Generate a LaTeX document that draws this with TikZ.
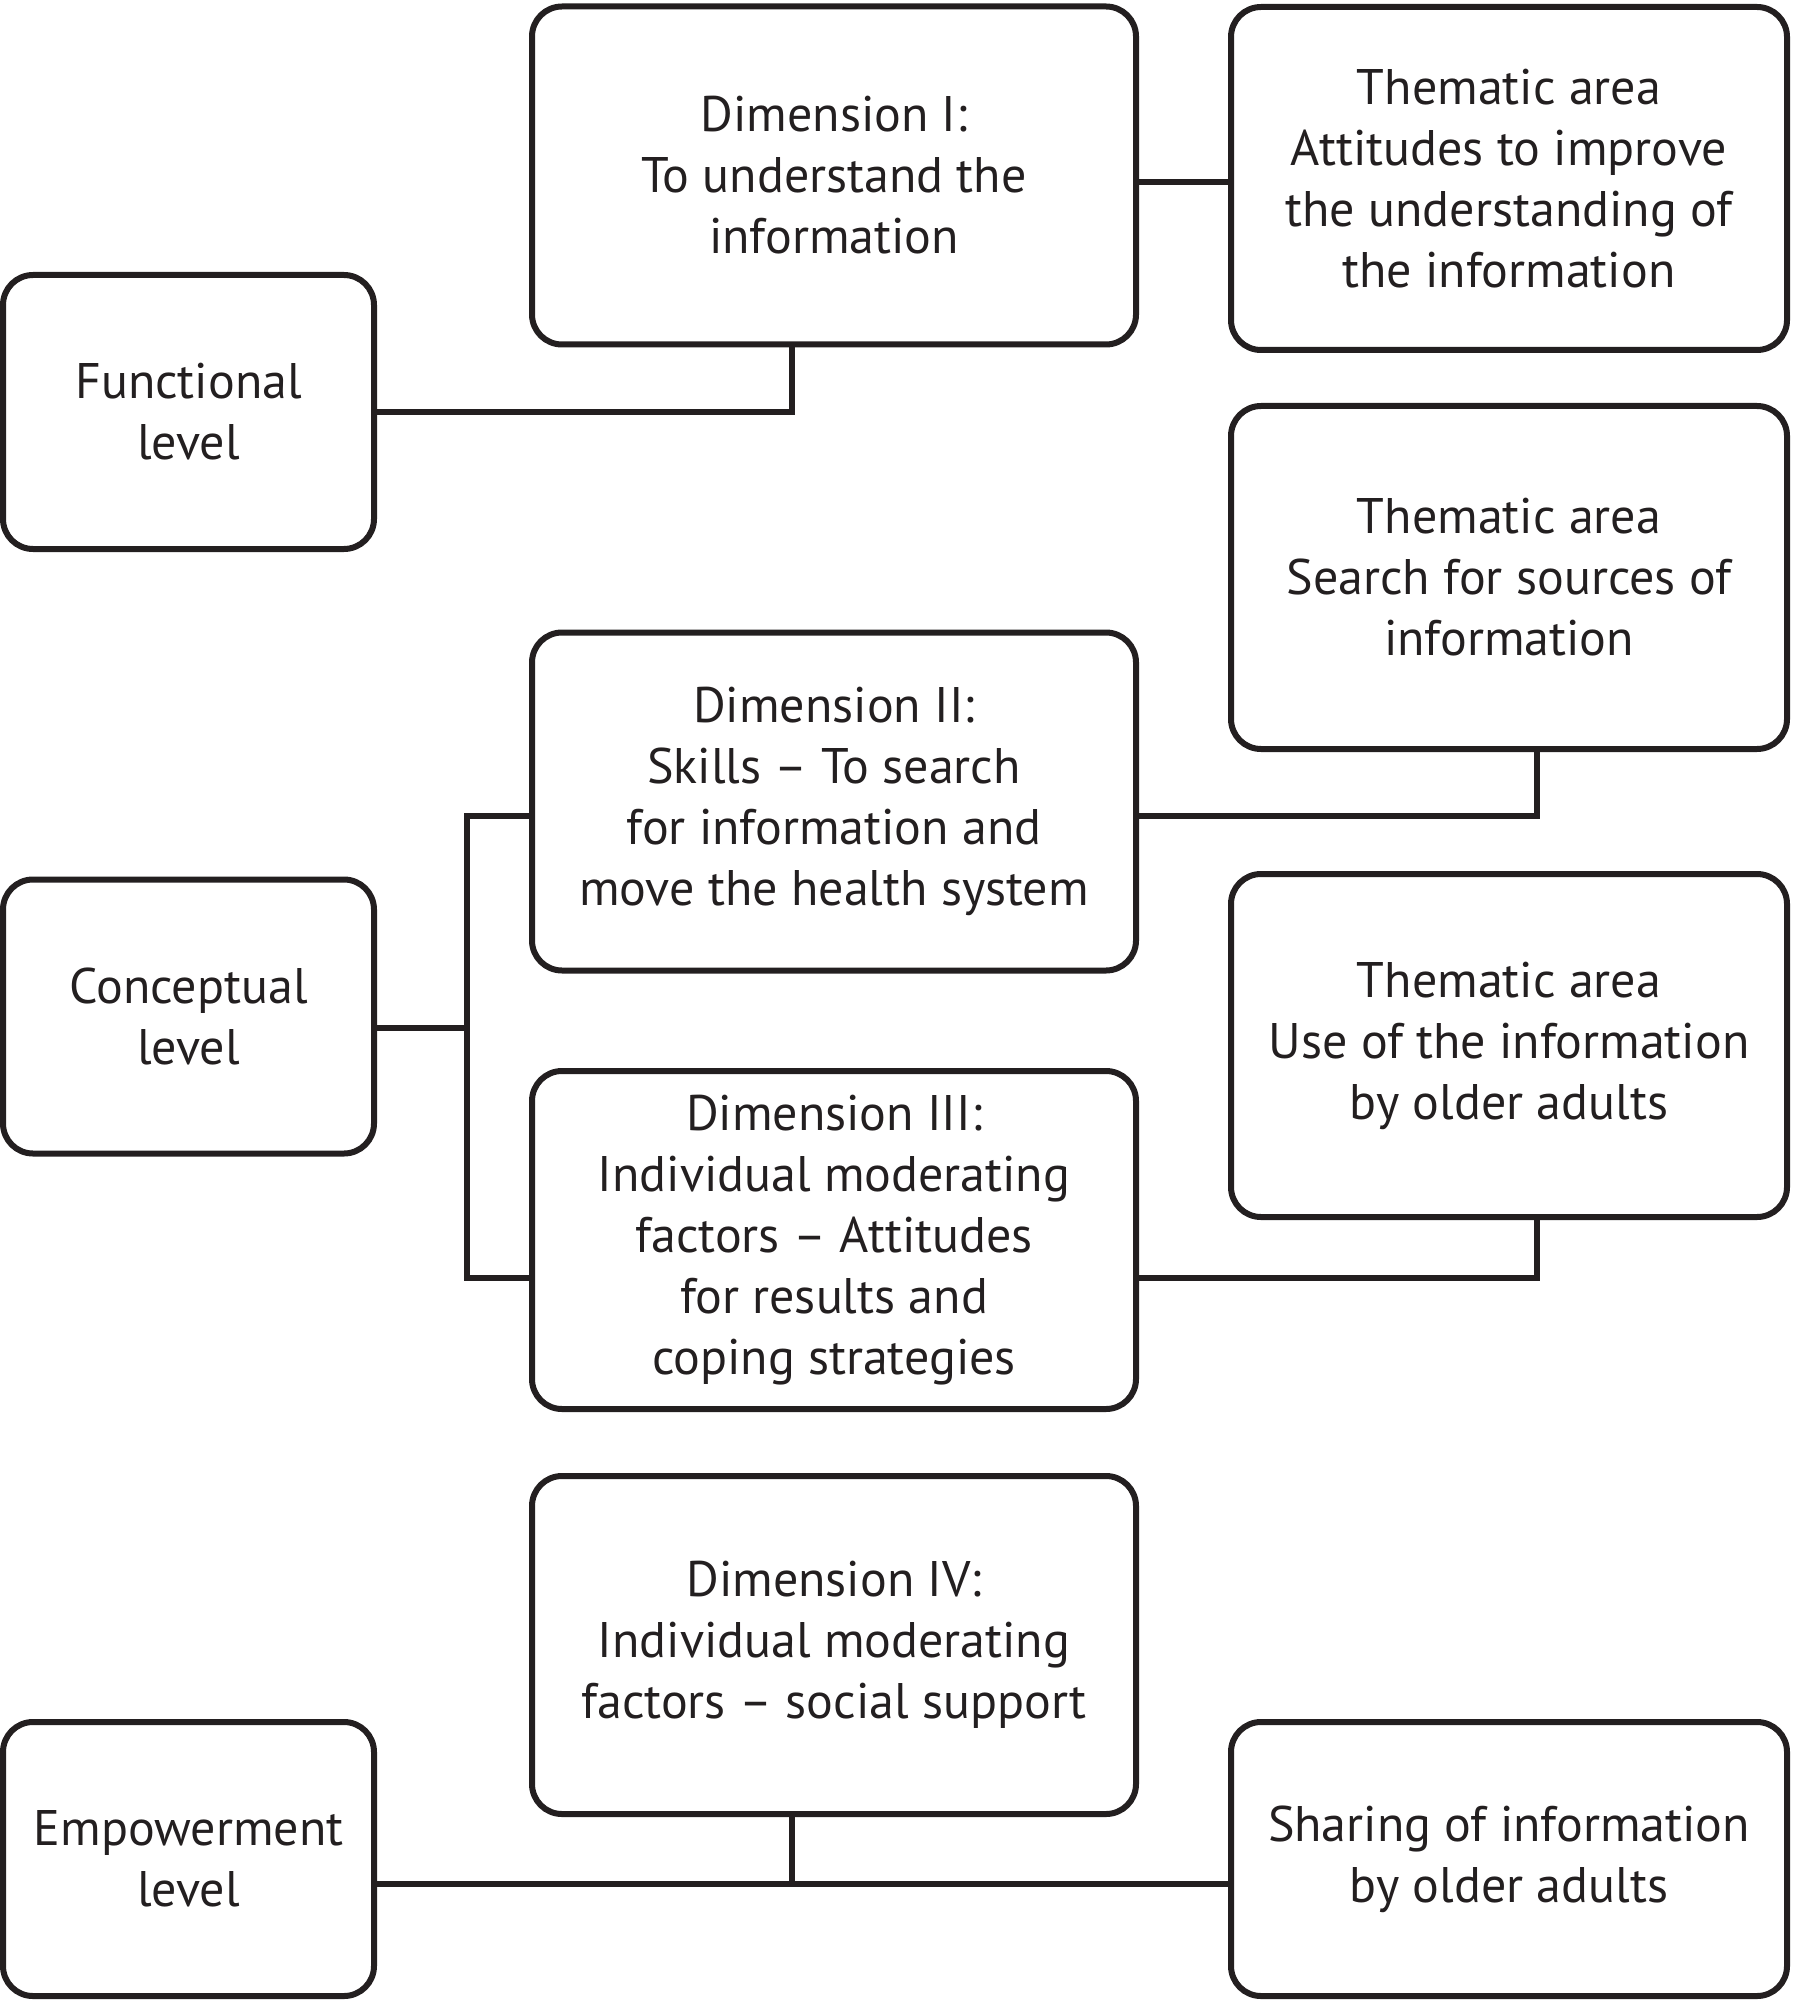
\documentclass[tikz,border=0pt]{standalone}
\usepackage{fontspec}
\setmainfont{PT Sans}
\definecolor{ink}{HTML}{231F20}
\begin{document}
\begin{tikzpicture}[x=0.5pt,y=-0.5pt,
  box/.style={draw=ink, text=ink, line width=3pt, rounded corners=15pt, align=center, inner sep=0pt,
    font=\fontsize{25}{30.5}\selectfont},
  lbox/.style={box, minimum width=185.5pt, minimum height=137pt},
  mbox/.style={box, minimum width=302pt, minimum height=169pt},
  rbox/.style={box, minimum width=278pt, minimum height=171.5pt},
  sbox/.style={box, minimum width=278pt, minimum height=137pt},
  conn/.style={draw=ink, line width=3pt, line join=miter}]
\useasboundingbox (0,0) rectangle (1793,2000);
% left column
\node[lbox] (func) at (188.5,412) {Functional\\level};
\node[lbox] (conc) at (188.5,1016.5) {Conceptual\\level};
\node[lbox] (emp) at (188.5,1859) {Empowerment\\level};
% middle column
\node[mbox] (dim1) at (834,175.5) {Dimension I:\\To understand the\\information};
\node[mbox] (dim2) at (834,801.5) {Dimension II:\\Skills – To search\\for information and\\move the health system};
\node[mbox] (dim3) at (834,1240) {Dimension III:\\Individual moderating\\factors – Attitudes\\for results and\\coping strategies};
\node[mbox] (dim4) at (834,1645) {Dimension IV:\\Individual moderating\\factors – social support};
% right column
\node[rbox] (them1) at (1509,178.5) {Thematic area\\Attitudes to improve\\the understanding of\\the information};
\node[rbox] (them2) at (1509,577.5) {Thematic area\\Search for sources of\\information};
\node[rbox] (them3) at (1509,1045.5) {Thematic area\\Use of the information\\by older adults};
\node[sbox] (share) at (1509,1859) {Sharing of information\\by older adults};
% connectors
\coordinate (trunk) at (467,1028);
\draw[conn] (dim1.east |- 0,182) -- (them1.west |- 0,182);
\draw[conn] (func.east) -| (dim1.south -| 792,0);
\draw[conn] (conc.east |- trunk) -- (trunk);
\draw[conn] (dim2.west |- 0,816) -| (trunk |- 0,1278) -- (dim3.west |- 0,1278);
\draw[conn] (dim2.east |- 0,816) -| (them2.south -| 1537,0);
\draw[conn] (dim3.east |- 0,1278) -| (them3.south -| 1537,0);
\draw[conn] (emp.east |- 0,1884) -- (share.west |- 0,1884);
\draw[conn] (dim4.south -| 792,0) -- (792,1884);
\end{tikzpicture}
\end{document}
